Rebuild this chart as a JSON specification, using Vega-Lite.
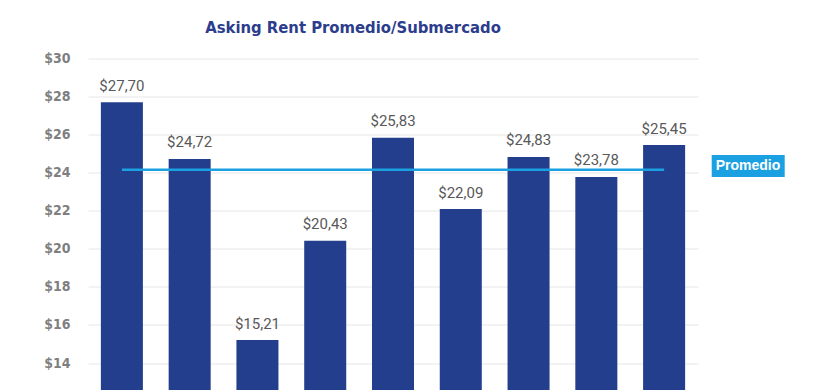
{
  "$schema": "https://vega.github.io/schema/vega-lite/v6.json",
  "autosize": {"type": "none"},
  "width": 610,
  "height": 571,
  "padding": {"left": 88, "top": 58.5, "right": 140, "bottom": 0},
  "background": "white",
  "config": {
    "view": {"stroke": null},
    "locale": {"number": {"decimal": ",", "thousands": ".", "grouping": [3], "currency": ["$", ""]}}
  },
  "title": {
    "text": "Asking Rent Promedio/Submercado",
    "anchor": "middle",
    "frame": "group",
    "dx": -40,
    "offset": 15,
    "font": "DejaVu Sans Condensed",
    "fontSize": 16.5,
    "fontWeight": "bold",
    "color": "#2B3D8C"
  },
  "data": {
    "values": [
      {"submercado": "Submercado 1", "renta": 27.70, "promedio": 24.15},
      {"submercado": "Submercado 2", "renta": 24.72, "promedio": 24.15},
      {"submercado": "Submercado 3", "renta": 15.21, "promedio": 24.15},
      {"submercado": "Submercado 4", "renta": 20.43, "promedio": 24.15},
      {"submercado": "Submercado 5", "renta": 25.83, "promedio": 24.15},
      {"submercado": "Submercado 6", "renta": 22.09, "promedio": 24.15},
      {"submercado": "Submercado 7", "renta": 24.83, "promedio": 24.15},
      {"submercado": "Submercado 8", "renta": 23.78, "promedio": 24.15},
      {"submercado": "Submercado 9", "renta": 25.45, "promedio": 24.15}
    ]
  },
  "encoding": {
    "x": {
      "field": "submercado",
      "type": "nominal",
      "sort": null,
      "scale": {"paddingInner": 0.38, "paddingOuter": 0.19},
      "axis": null
    }
  },
  "layer": [
    {
      "mark": {"type": "bar", "color": "#233E8C"},
      "encoding": {
        "y": {
          "field": "renta",
          "type": "quantitative",
          "scale": {"domain": [0, 30], "nice": false},
          "axis": {
            "values": [14, 16, 18, 20, 22, 24, 26, 28, 30],
            "format": "$.0f",
            "title": null,
            "domain": false,
            "ticks": false,
            "labelOverlap": false,
            "labelBound": false,
            "labelFlush": false,
            "labelPadding": 18,
            "labelFont": "DejaVu Sans Condensed",
            "labelFontSize": 14,
            "labelFontWeight": "bold",
            "labelColor": "#7F7F7F",
            "gridColor": "#E6E6E6",
            "gridWidth": 1
          }
        }
      }
    },
    {
      "mark": {"type": "text", "baseline": "alphabetic", "dy": -11.5, "font": "Roboto", "fontSize": 15, "color": "#595959"},
      "encoding": {
        "y": {"field": "renta", "type": "quantitative"},
        "text": {"field": "renta", "type": "quantitative", "format": "$.2f"}
      }
    },
    {
      "mark": {"type": "line", "strokeWidth": 2.5},
      "encoding": {
        "y": {"field": "promedio", "type": "quantitative"},
        "color": {
          "datum": "Promedio",
          "scale": {"range": ["#1BA1E2"]},
          "legend": {
            "title": null,
            "orient": "none",
            "legendX": 623.7,
            "legendY": 96.5,
            "fillColor": "#1BA1E2",
            "padding": 4,
            "symbolType": "circle",
            "symbolSize": 0,
            "symbolOpacity": 0,
            "symbolStrokeWidth": 0,
            "labelOffset": -14,
            "labelFont": "Liberation Sans",
            "labelFontSize": 14,
            "labelFontWeight": "bold",
            "labelColor": "white"
          }
        }
      }
    }
  ]
}
